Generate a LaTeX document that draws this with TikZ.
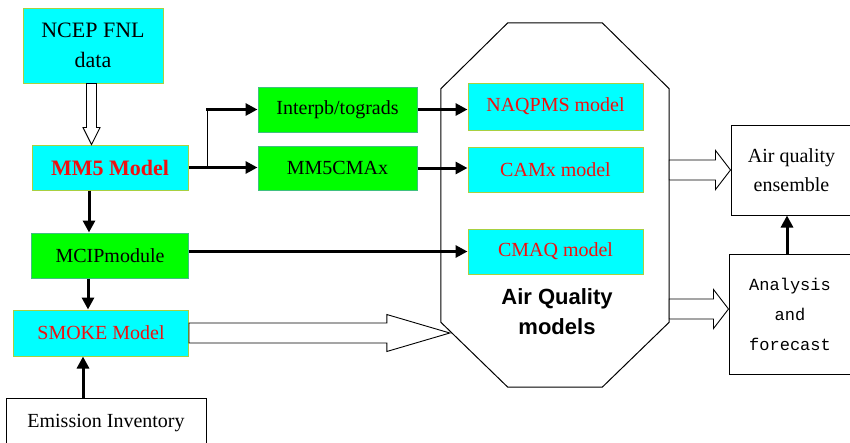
\documentclass[tikz,border=0pt]{standalone}
\usepackage{fontspec}
\setmainfont{Liberation Serif}
\setsansfont{Liberation Sans}
\setmonofont{Liberation Mono}
\usetikzlibrary{arrows.meta, positioning, calc}

\definecolor{boxcyan}{HTML}{00FFFF}
\definecolor{boxgreen}{HTML}{00FF00}
\definecolor{cyanedge}{HTML}{A8D040}
\definecolor{greenedge}{HTML}{40C080}
\definecolor{modelred}{HTML}{F01010}

% hollow block arrows: start, tip, shaft half width, head half width, head length
\newcommand{\hollowright}[5]{%
  \draw[hollow] let \p1=#1, \p2=#2 in
    (\x1,\y2+#3) -- (\x2-#5,\y2+#3) -- (\x2-#5,\y2+#4) -- (\x2,\y2)
    -- (\x2-#5,\y2-#4) -- (\x2-#5,\y2-#3) -- (\x1,\y2-#3) -- cycle;}
\newcommand{\hollowdown}[5]{%
  \draw[hollow] let \p1=#1, \p2=#2 in
    (\x2-#3,\y1) -- (\x2-#3,\y2+#5) -- (\x2-#4,\y2+#5) -- (\x2,\y2)
    -- (\x2+#4,\y2+#5) -- (\x2+#3,\y2+#5) -- (\x2+#3,\y1) -- cycle;}

\begin{document}
\begin{tikzpicture}[
  x=1pt, y=-1pt,
  cyanbox/.style  = {draw=cyanedge, line width=1pt, fill=boxcyan,
                     inner sep=0pt, align=center,
                     font=\fontsize{20}{30}\selectfont},
  greenbox/.style = {draw=greenedge, line width=1pt, fill=boxgreen,
                     inner sep=0pt, align=center,
                     font=\fontsize{20}{30}\selectfont},
  plainbox/.style = {draw, line width=1pt, fill=white,
                     inner sep=0pt, align=center,
                     font=\fontsize{20}{29}\selectfont},
  redtext/.style  = {text=modelred},
  arr/.style      = {line width=3pt, -{Triangle[length=12pt, width=12pt]}},
  thinline/.style = {line width=1pt},
  hollow/.style   = {draw, line width=0.9pt, fill=white},
]
\useasboundingbox[fill=white] (0,0) rectangle (850,442);

% =============================================
% AIR QUALITY MODELS (octagon)
% =============================================
\node[minimum width=228pt, minimum height=364pt, inner sep=0pt] (aqm) at (555,205) {};
\draw[line width=1pt]
  ([xshift=67pt]aqm.north west) -- ([xshift=-67pt]aqm.north east)
  -- ([yshift=-66pt]aqm.north east) -- ([yshift=65pt]aqm.south east)
  -- ([xshift=-67pt]aqm.south east) -- ([xshift=67pt]aqm.south west)
  -- ([yshift=65pt]aqm.south west) -- ([yshift=-66pt]aqm.north west) -- cycle;
\node[font=\sffamily\bfseries\fontsize{22}{30}\selectfont, align=center]
  (aqlabel) at (557,312) {Air Quality\\models};

% =============================================
% BOXES
% =============================================
\node[cyanbox, minimum width=140pt, minimum height=75pt,
      font=\fontsize{22}{30}\selectfont] (ncep) at (93,45.5) {NCEP FNL\\data};
\node[cyanbox, redtext, minimum width=156pt, minimum height=45pt,
      font=\bfseries\fontsize{22}{26}\selectfont] (mm5) at (110,167.5) {MM5 Model};
\node[greenbox, minimum width=157pt, minimum height=45pt,
      below=42pt of mm5] (mcip) {MCIPmodule};
\node[cyanbox, redtext, minimum width=175pt, minimum height=46pt,
      below=31pt of mcip, xshift=-9pt] (smoke) {SMOKE Model};
\node[plainbox, minimum width=200pt, minimum height=50pt] (emis) at (106,423) {Emission Inventory};

\node[greenbox, minimum width=159pt, minimum height=45pt] (interp) at (337.5,109.5) {Interpb/tograds};
\node[greenbox, minimum width=159pt, minimum height=44pt,
      below=13pt of interp] (mmcmax) {MM5CMAx};

\node[cyanbox, redtext, minimum width=175pt, minimum height=47pt] (naqpms) at (555.5,106.5) {NAQPMS model};
\node[cyanbox, redtext, minimum width=175pt, minimum height=45pt,
      below=16pt of naqpms] (camx) {CAMx model};
\node[cyanbox, redtext, minimum width=175pt, minimum height=45pt,
      below=36pt of camx] (cmaq) {CMAQ model};

\node[plainbox, minimum width=121pt, minimum height=90pt] (ensemble) at (791.5,170) {Air quality\\ensemble};
\node[plainbox, minimum width=122pt, minimum height=120pt,
      font=\ttfamily\fontsize{17}{30}\selectfont] (analysis) at (790,314) {Analysis\\and\\forecast};

% =============================================
% THICK ARROWS
% =============================================
\coordinate (split) at ([xshift=19pt]mm5.east);
\draw[arr] (mm5.east) -- (mm5.east -| mmcmax.west);
\draw[thinline] (split) -- (split |- interp.west);
\draw[arr] ([xshift=-1.5pt]split |- interp.west) -- (interp.west);
\draw[arr] (interp.east) -- (interp.east -| naqpms.west);
\draw[arr] (mmcmax.east) -- (mmcmax.east -| camx.west);
\draw[arr] (mcip.east |- cmaq.west) -- (cmaq.west);

\draw[arr] ([xshift=-21pt]mm5.south) -- ([xshift=-21pt]mm5.south |- mcip.north);
\draw[arr] ([xshift=-22pt]mcip.south) -- ([xshift=-22pt]mcip.south |- smoke.north);
\draw[arr] ([xshift=-23pt]emis.north) -- ([xshift=-23pt]emis.north |- smoke.south);
\draw[arr] ([xshift=-3pt]analysis.north) -- ([xshift=-3pt]analysis.north |- ensemble.south);

% =============================================
% HOLLOW ARROWS
% =============================================
\hollowdown{([xshift=-1.5pt]ncep.south)}{([xshift=-1.5pt]ncep.south |- mm5.north)}{5pt}{8.5pt}{17pt}
\hollowright{(smoke.east)}{([xshift=9pt]smoke.east -| aqm.west)}{10pt}{18.5pt}{63pt}
\hollowright{(ensemble.west -| aqm.east)}{(ensemble.west)}{10pt}{19.5pt}{15pt}
\hollowright{([yshift=5pt]analysis.west -| aqm.east)}{([yshift=5pt]analysis.west)}{10pt}{19.5pt}{15pt}

\end{tikzpicture}
\end{document}
